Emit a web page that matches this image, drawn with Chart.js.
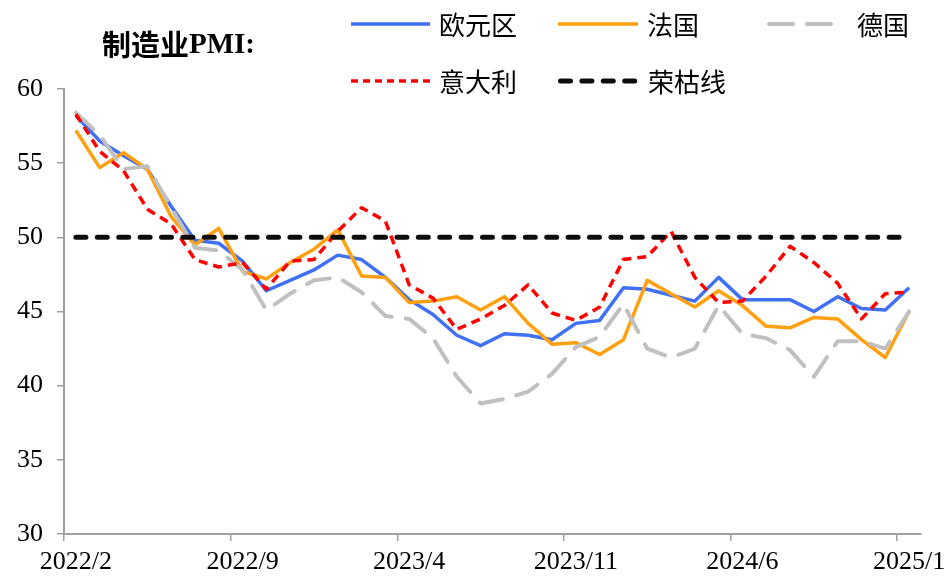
<!DOCTYPE html>
<html>
<head>
<meta charset="utf-8">
<script src="https://cdn.jsdelivr.net/npm/chart.js@4.4.1/dist/chart.umd.min.js"></script>
<style>
html,body{margin:0;padding:0;background:#fff;}
#wrap{position:relative;width:945px;height:577px;}
canvas{display:block;}
</style>
</head>
<body>
<div id="wrap"><canvas id="c" width="945" height="577"></canvas></div>
<script>
// Months 2022/2 .. 2025/1
const months = [
 '2022/2','2022/3','2022/4','2022/5','2022/6','2022/7','2022/8','2022/9','2022/10','2022/11','2022/12',
 '2023/1','2023/2','2023/3','2023/4','2023/5','2023/6','2023/7','2023/8','2023/9','2023/10','2023/11','2023/12',
 '2024/1','2024/2','2024/3','2024/4','2024/5','2024/6','2024/7','2024/8','2024/9','2024/10','2024/11','2024/12',
 '2025/1'
];
const eurozone = [58.2,56.5,55.5,54.6,52.1,49.8,49.6,48.4,46.4,47.1,47.8,
 48.8,48.5,47.3,45.8,44.8,43.4,42.7,43.5,43.4,43.1,44.2,44.4,
 46.6,46.5,46.1,45.7,47.3,45.8,45.8,45.8,45.0,46.0,45.2,45.1,
 46.6];
const france = [57.2,54.7,55.7,54.6,51.4,49.5,50.6,47.7,47.2,48.3,49.2,
 50.5,47.4,47.3,45.6,45.7,46.0,45.1,46.0,44.2,42.8,42.9,42.1,
 43.1,47.1,46.2,45.3,46.4,45.4,44.0,43.9,44.6,44.5,43.1,41.9,
 45.0];
const germany = [58.4,56.9,54.6,54.8,52.0,49.3,49.1,47.8,45.1,46.2,47.1,
 47.3,46.3,44.7,44.5,43.2,40.6,38.8,39.1,39.6,40.8,42.6,43.3,
 45.5,42.5,41.9,42.5,45.4,43.5,43.2,42.4,40.6,43.0,43.0,42.5,
 45.0];
const italy = [58.3,55.8,54.5,51.9,50.9,48.5,48.0,48.3,46.5,48.4,48.5,
 50.4,52.0,51.1,46.8,45.9,43.8,44.5,45.4,46.8,44.9,44.4,45.3,
 48.5,48.7,50.4,47.3,45.6,45.7,47.4,49.4,48.3,46.9,44.5,46.2,
 46.3];
const boomBust = months.map(() => 50);
const seriesNames = ['欧元区','法国','德国','意大利','荣枯线'];
const yTicks = [30,35,40,45,50,55,60];
const titleCn = '制造业';
const titleEn = 'PMI:';

const AXIS = '#a0a0a0';
const serif = '"Liberation Serif","Times New Roman",serif';
const cjk = '"Noto Sans CJK SC","Noto Sans CJK JP",sans-serif';

const styles = [
  {color:'#4070f4', width:3.5, dash:[], cap:'butt', order:5},
  {color:'#ffa010', width:3.5, dash:[], cap:'butt', order:4},
  {color:'#c0c0c0', width:4, dash:[24,14], cap:'round', order:3},
  {color:'#ff0000', width:3.5, dash:[9,6], cap:'butt', order:2},
  {color:'#0d0d0d', width:5, dash:[10,11.4], cap:'round', order:1}
];
const values = [eurozone, france, germany, italy, boomBust];

const datasets = values.map((v,i) => ({
  label: seriesNames[i],
  data: v,
  borderColor: styles[i].color,
  backgroundColor: styles[i].color,
  borderWidth: styles[i].width,
  borderDash: styles[i].dash,
  borderCapStyle: styles[i].cap,
  borderJoinStyle: 'round',
  pointRadius: 0,
  tension: 0,
  fill: false,
  order: styles[i].order
}));

const legendPlugin = {
  id: 'customLegend',
  afterDraw(chart) {
    const ctx = chart.ctx;
    ctx.save();
    // title
    ctx.textBaseline = 'middle';
    ctx.fillStyle = '#000';
    ctx.font = 'bold 29px ' + cjk;
    ctx.fillText(titleCn, 102, 45);
    const w = ctx.measureText(titleCn).width;
    ctx.font = 'bold 29px ' + serif;
    ctx.fillText(titleEn, 102 + w, 46);
    // legend
    const pos = [
      {x1:351, x2:430, tx:439, y:24},
      {x1:558, x2:638, tx:647, y:24},
      {x1:767, x2:838, tx:857, y:24},
      {x1:351, x2:430, tx:439, y:81},
      {x1:558, x2:638, tx:648, y:81}
    ];
    pos.forEach((p,i) => {
      const s = styles[i];
      ctx.beginPath();
      ctx.strokeStyle = s.color;
      ctx.lineWidth = s.width;
      ctx.lineCap = s.cap;
      let dash = s.dash;
      if (i === 3) dash = [7,5];
      ctx.setLineDash(dash);
      const off = s.cap === 'round' ? s.width/2 : 0;
      ctx.moveTo(p.x1 + off, p.y);
      ctx.lineTo(p.x2 - off, p.y);
      ctx.stroke();
      ctx.setLineDash([]);
      ctx.font = '26px ' + cjk;
      ctx.fillStyle = '#000';
      ctx.textBaseline = 'middle';
      ctx.fillText(seriesNames[i], p.tx, p.y + 1);
    });
    ctx.restore();
  }
};

new Chart(document.getElementById('c'), {
  type: 'line',
  data: { labels: months, datasets },
  options: {
    responsive: false,
    animation: false,
    devicePixelRatio: 1,
    layout: { padding: { top: 89, left: 0, right: 24, bottom: 0 } },
    plugins: { legend: { display: false }, title: { display: false }, tooltip: { enabled: false } },
    scales: {
      x: {
        type: 'category',
        offset: true,
        afterFit(scale) { scale.height = 43; scale.paddingRight = 0; scale.paddingLeft = 0; },
        grid: {
          offset: true,
          drawOnChartArea: false,
          drawTicks: true,
          tickLength: 7,
          lineWidth: 1.5,
          color: (c) => (c.index % 7 === 0 && c.index < months.length) ? AXIS : 'rgba(0,0,0,0)',
          tickColor: (c) => (c.index % 7 === 0 && c.index < months.length) ? AXIS : 'rgba(0,0,0,0)'
        },
        border: { display: true, color: AXIS, width: 2 },
        ticks: {
          autoSkip: false,
          maxRotation: 0,
          minRotation: 0,
          padding: 6,
          color: '#000',
          font: { family: serif, size: 26 },
          callback: (v, i) => (i % 7 === 0) ? months[i] : ''
        }
      },
      y: {
        min: 30,
        max: 60,
        afterFit(scale) { scale.width = 64; },
        afterBuildTicks(scale) { scale.ticks = yTicks.map(v => ({ value: v })); },
        grid: {
          drawOnChartArea: false,
          drawTicks: true,
          tickLength: 7,
          lineWidth: 1.5,
          color: AXIS
        },
        border: { display: true, color: AXIS, width: 2 },
        ticks: {
          padding: 14,
          color: '#000',
          font: { family: serif, size: 26 }
        }
      }
    }
  },
  plugins: [legendPlugin]
});
</script>
</body>
</html>
